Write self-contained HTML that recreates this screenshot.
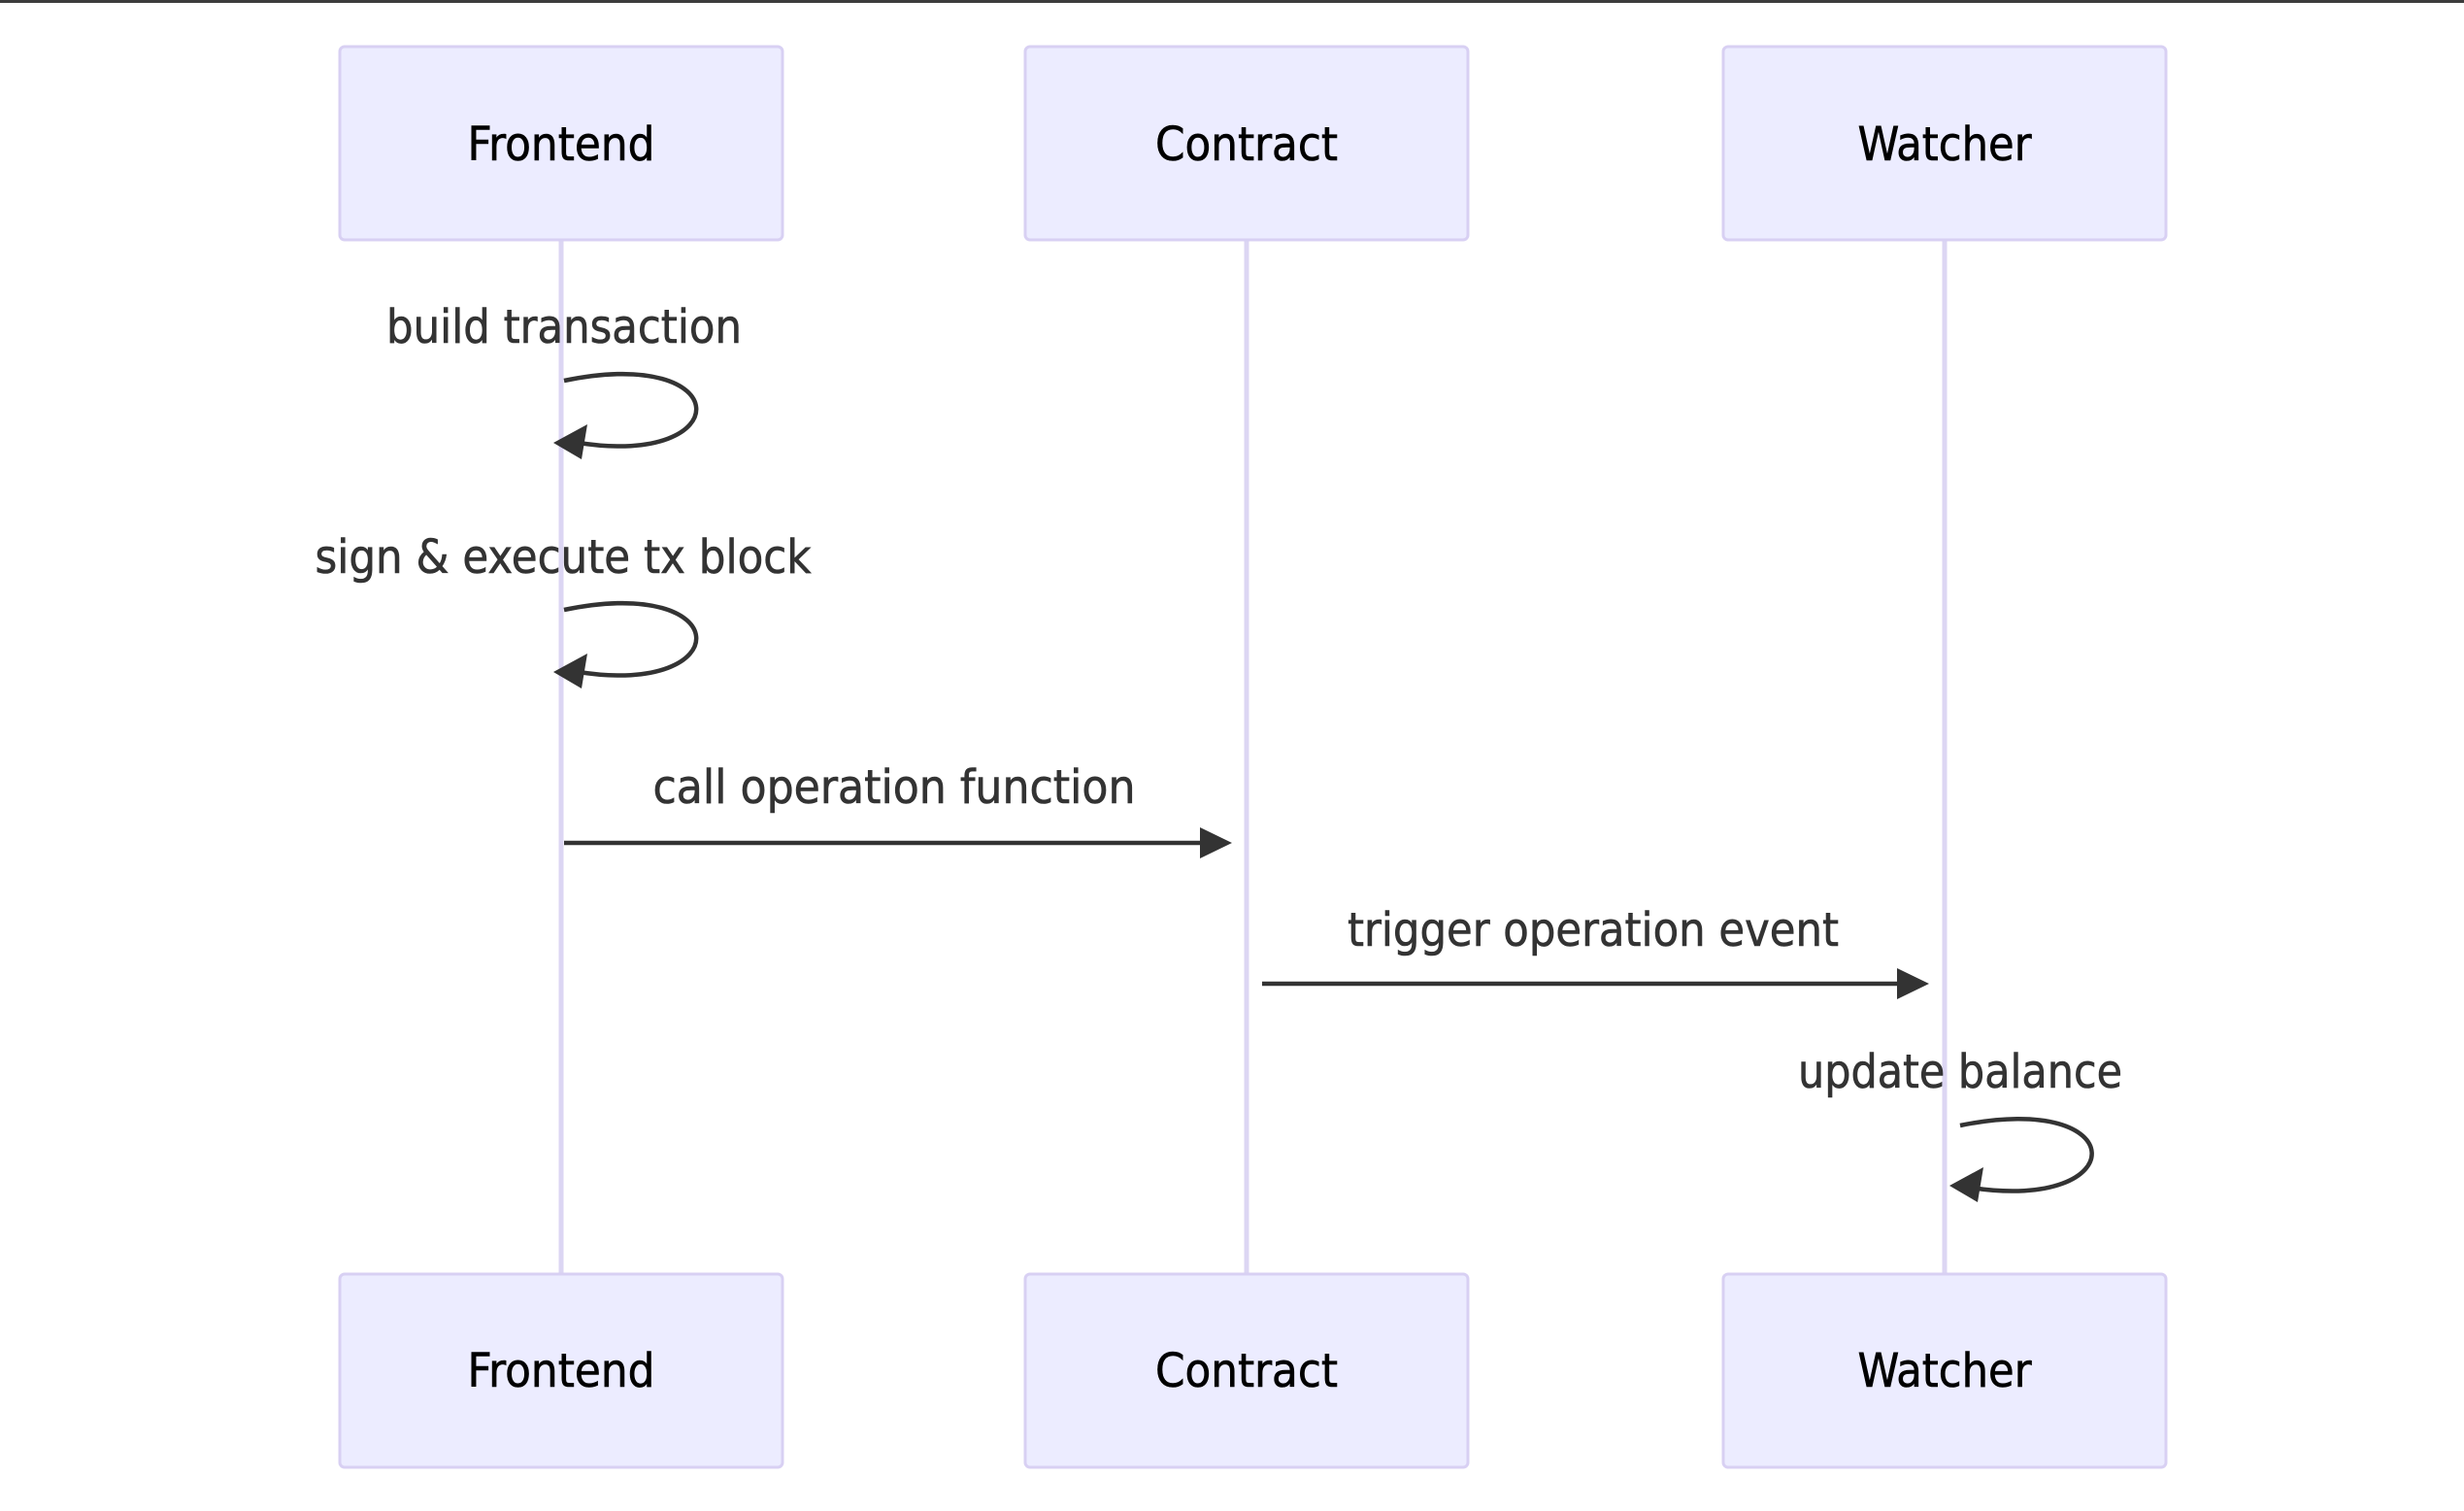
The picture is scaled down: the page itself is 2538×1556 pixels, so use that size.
<!DOCTYPE html>
<html><head><meta charset="utf-8"><style>
html,body{margin:0;padding:0;background:#fff;}
svg{display:block;}
text{font-family:"DejaVu Sans Condensed","Liberation Sans",sans-serif;}
</style></head><body>
<svg width="2538" height="1556" viewBox="0 0 2538 1556" xmlns="http://www.w3.org/2000/svg">
<rect x="0" y="0" width="2538" height="3" fill="#3c3c3c"/>
<g stroke="#dcd6f3" stroke-width="5">
<line x1="578" y1="247" x2="578" y2="1311"/>
<line x1="1284" y1="247" x2="1284" y2="1311"/>
<line x1="2003" y1="247" x2="2003" y2="1311"/>
</g>
<g fill="#ececff" stroke="#d8d0f3" stroke-width="3">
<rect x="350" y="48" width="456" height="199" rx="5"/>
<rect x="1056" y="48" width="456" height="199" rx="5"/>
<rect x="1775" y="48" width="456" height="199" rx="5"/>
<rect x="350" y="1312" width="456" height="199" rx="5"/>
<rect x="1056" y="1312" width="456" height="199" rx="5"/>
<rect x="1775" y="1312" width="456" height="199" rx="5"/>
</g>
<g font-size="48" fill="#000" text-anchor="middle" stroke="#000" stroke-width="0.6">
<text x="578" y="165" textLength="193" lengthAdjust="spacingAndGlyphs">Frontend</text>
<text x="1284" y="165" textLength="188" lengthAdjust="spacingAndGlyphs">Contract</text>
<text x="2003" y="165" textLength="179" lengthAdjust="spacingAndGlyphs">Watcher</text>
<text x="578" y="1428" textLength="193" lengthAdjust="spacingAndGlyphs">Frontend</text>
<text x="1284" y="1428" textLength="188" lengthAdjust="spacingAndGlyphs">Contract</text>
<text x="2003" y="1428" textLength="179" lengthAdjust="spacingAndGlyphs">Watcher</text>
</g>
<g font-size="48" fill="#333" text-anchor="middle" stroke="#333" stroke-width="0.6">
<text x="581" y="353" textLength="366" lengthAdjust="spacingAndGlyphs">build transaction</text>
<text x="580" y="590" textLength="511" lengthAdjust="spacingAndGlyphs">sign &amp; execute tx block</text>
<text x="921" y="827" textLength="497" lengthAdjust="spacingAndGlyphs">call operation function</text>
<text x="1641" y="974" textLength="506" lengthAdjust="spacingAndGlyphs">trigger operation event</text>
<text x="2019" y="1120" textLength="334" lengthAdjust="spacingAndGlyphs">update balance</text>
</g>
<g fill="none" stroke="#333" stroke-width="4.5">
<path d="M581,392 C760,355 760,482 596,456"/>
<path d="M581,628 C760,591 760,718 596,692"/>
<path d="M2019,1159 C2198,1122 2198,1249 2030,1223"/>
<line x1="581" y1="868" x2="1240" y2="868"/>
<line x1="1300" y1="1013" x2="1958" y2="1013"/>
</g>
<g fill="#333">
<polygon points="570,456 605,437 599,473"/>
<polygon points="570,692 605,673 599,709"/>
<polygon points="2008,1221 2043,1202 2037,1238"/>
<polygon points="1269,868 1236,852 1236,884"/>
<polygon points="1987,1013 1954,997 1954,1029"/>
</g>
</svg>
</body></html>
